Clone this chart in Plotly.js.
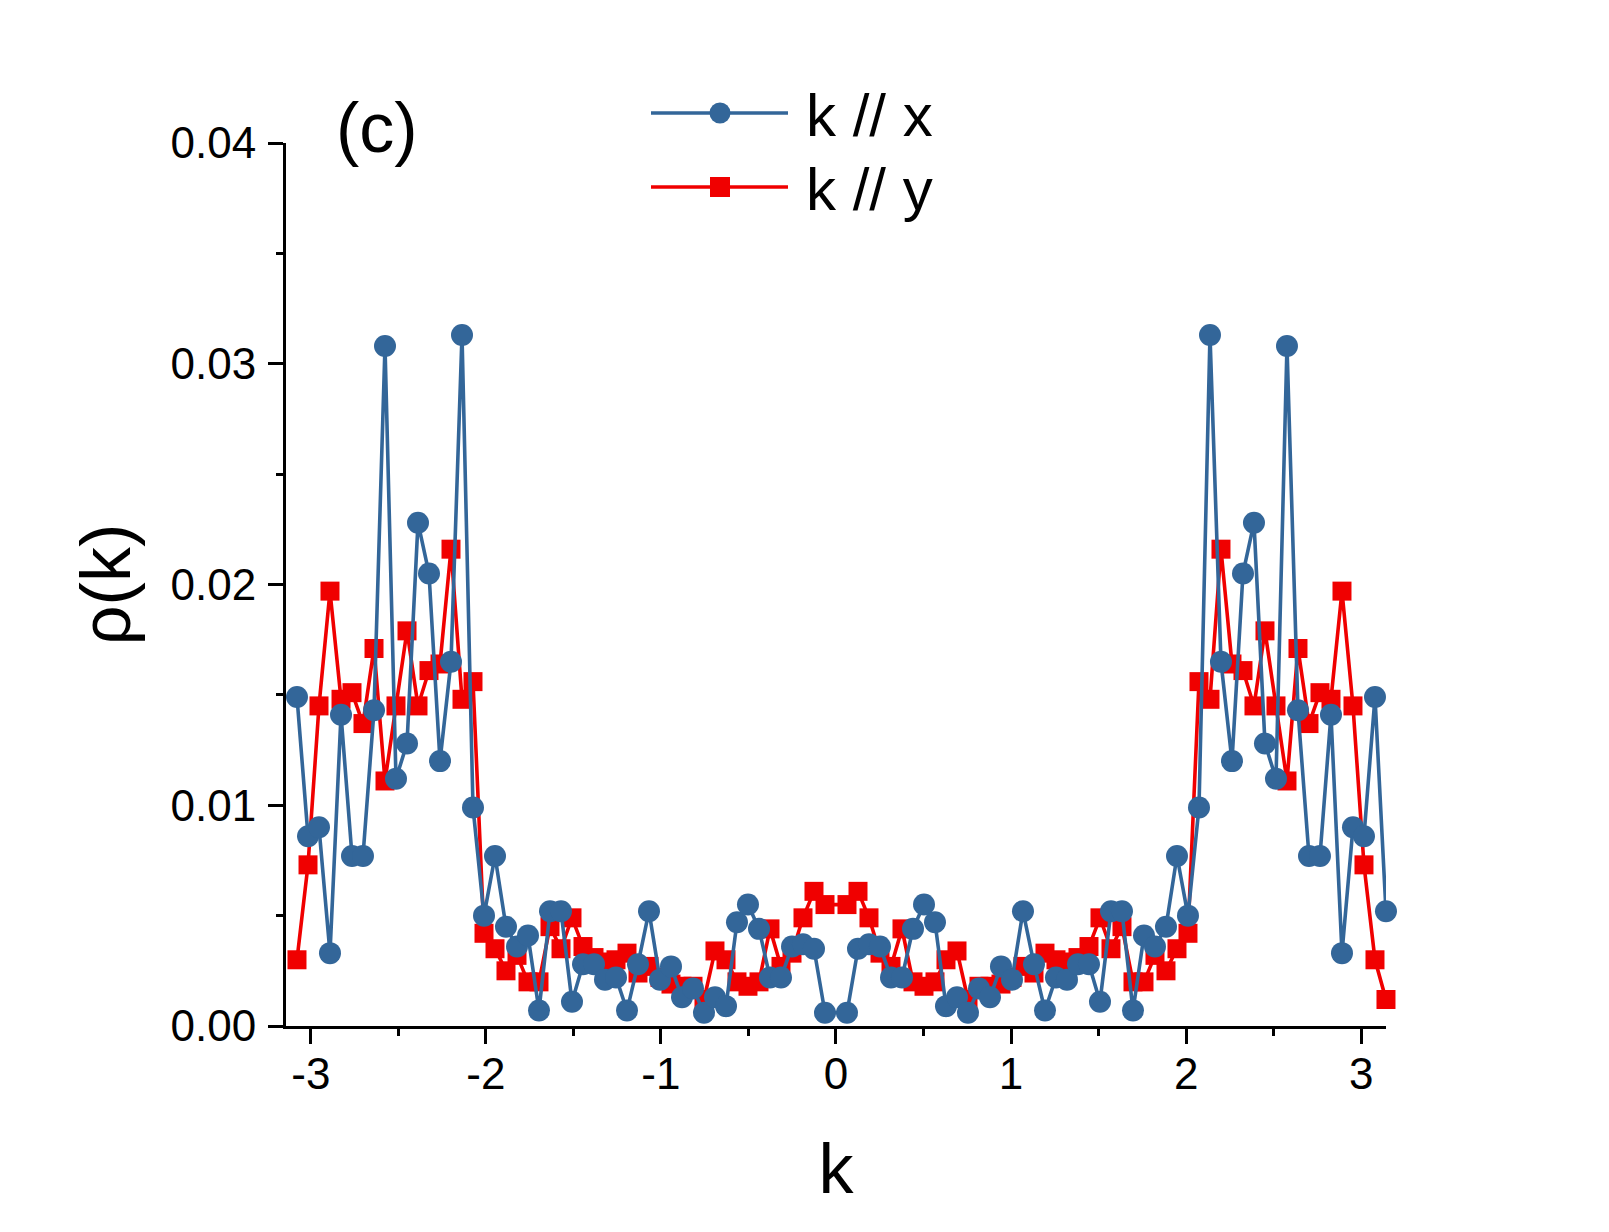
<!DOCTYPE html>
<html>
<head>
<meta charset="utf-8">
<script src="https://cdn.plot.ly/plotly-3.0.1.min.js"></script>
<style>
  html, body { margin: 0; padding: 0; background: #ffffff; }
  #plot { width: 1609px; height: 1232px; }
</style>
</head>
<body>
<div id="plot"></div>
<script>
// Lattice momenta k = 2πm/100 (m = -49..-1, 1..50)
const k = [
  -3.0788, -3.0159, -2.9531, -2.8903, -2.8274, -2.7646, -2.7018, -2.6389, -2.5761, -2.5133,
  -2.4504, -2.3876, -2.3248, -2.2619, -2.1991, -2.1363, -2.0735, -2.0106, -1.9478, -1.8850,
  -1.8221, -1.7593, -1.6965, -1.6336, -1.5708, -1.5080, -1.4451, -1.3823, -1.3195, -1.2566,
  -1.1938, -1.1310, -1.0681, -1.0053, -0.9425, -0.8796, -0.8168, -0.7540, -0.6912, -0.6283,
  -0.5655, -0.5027, -0.4398, -0.3770, -0.3142, -0.2513, -0.1885, -0.1257, -0.0628,
   0.0628,  0.1257,  0.1885,  0.2513,  0.3142,  0.3770,  0.4398,  0.5027,  0.5655,  0.6283,
   0.6912,  0.7540,  0.8168,  0.8796,  0.9425,  1.0053,  1.0681,  1.1310,  1.1938,  1.2566,
   1.3195,  1.3823,  1.4451,  1.5080,  1.5708,  1.6336,  1.6965,  1.7593,  1.8221,  1.8850,
   1.9478,  2.0106,  2.0735,  2.1363,  2.1991,  2.2619,  2.3248,  2.3876,  2.4504,  2.5133,
   2.5761,  2.6389,  2.7018,  2.7646,  2.8274,  2.8903,  2.9531,  3.0159,  3.0788,  3.1416
];

// ρ(k) for k parallel to x
const rhoX = [
  0.0149, 0.0086, 0.0090, 0.0033, 0.0141, 0.0077, 0.0077, 0.0143, 0.0308, 0.0112,
  0.0128, 0.0228, 0.0205, 0.0120, 0.0165, 0.0313, 0.0099, 0.0050, 0.0077, 0.0045,
  0.0036, 0.0041, 0.0007, 0.0052, 0.0052, 0.0011, 0.0028, 0.0028, 0.0021, 0.0022,
  0.0007, 0.0028, 0.0052, 0.0021, 0.0027, 0.0013, 0.0017, 0.0006, 0.0013, 0.0009,
  0.0047, 0.0055, 0.0044, 0.0022, 0.0022, 0.0036, 0.0037, 0.0035, 0.0006,
  0.0006, 0.0035, 0.0037, 0.0036, 0.0022, 0.0022, 0.0044, 0.0055, 0.0047, 0.0009,
  0.0013, 0.0006, 0.0017, 0.0013, 0.0027, 0.0021, 0.0052, 0.0028, 0.0007, 0.0022,
  0.0021, 0.0028, 0.0028, 0.0011, 0.0052, 0.0052, 0.0007, 0.0041, 0.0036, 0.0045,
  0.0077, 0.0050, 0.0099, 0.0313, 0.0165, 0.0120, 0.0205, 0.0228, 0.0128, 0.0112,
  0.0308, 0.0143, 0.0077, 0.0077, 0.0141, 0.0033, 0.0090, 0.0086, 0.0149, 0.0052
];

// ρ(k) for k parallel to y
const rhoY = [
  0.0030, 0.0073, 0.0145, 0.0197, 0.0148, 0.0151, 0.0137, 0.0171, 0.0111, 0.0145,
  0.0179, 0.0145, 0.0161, 0.0164, 0.0216, 0.0148, 0.0156, 0.0042, 0.0035, 0.0025,
  0.0032, 0.0020, 0.0020, 0.0045, 0.0035, 0.0049, 0.0036, 0.0031, 0.0029, 0.0030,
  0.0033, 0.0024, 0.0027, 0.0022, 0.0019, 0.0018, 0.0018, 0.0012, 0.0034, 0.0030,
  0.0020, 0.0018, 0.0020, 0.0044, 0.0027, 0.0033, 0.0049, 0.0061, 0.0055,
  0.0055, 0.0061, 0.0049, 0.0033, 0.0027, 0.0044, 0.0020, 0.0018, 0.0020, 0.0030,
  0.0034, 0.0012, 0.0018, 0.0018, 0.0019, 0.0022, 0.0027, 0.0024, 0.0033, 0.0030,
  0.0029, 0.0031, 0.0036, 0.0049, 0.0035, 0.0045, 0.0020, 0.0020, 0.0032, 0.0025,
  0.0035, 0.0042, 0.0156, 0.0148, 0.0216, 0.0164, 0.0161, 0.0145, 0.0179, 0.0145,
  0.0111, 0.0171, 0.0137, 0.0151, 0.0148, 0.0197, 0.0145, 0.0073, 0.0030, 0.0012
];

const seriesNames = ['k // x', 'k // y'];
const xTicks = [-3, -2, -1, 0, 1, 2, 3];
const yTicks = [0, 0.01, 0.02, 0.03, 0.04];

const BLUE = '#336699';
const RED = '#F00000';
const FONT = 'Liberation Sans, Arial, Helvetica, sans-serif';
const LINE_W = 3.6;

const W = 1609, H = 1232;
const M = { l: 286, r: 223, t: 143, b: 206 };

const traceY = {
  x: k, y: rhoY, name: seriesNames[1], type: 'scatter', mode: 'lines+markers',
  line: { color: RED, width: LINE_W },
  marker: { symbol: 'square', size: 19, color: RED },
  cliponaxis: false
};
const traceX = {
  x: k, y: rhoX, name: seriesNames[0], type: 'scatter', mode: 'lines+markers',
  line: { color: BLUE, width: LINE_W },
  marker: { symbol: 'circle', size: 22, color: BLUE },
  cliponaxis: false
};

// Legend drawn as shapes + text in paper space
const legendRows = [
  { name: seriesNames[0], color: BLUE, symbol: 'circle', yPx: 113 },
  { name: seriesNames[1], color: RED, symbol: 'rect', yPx: 187 }
];
const plotW = W - M.l - M.r, plotH = H - M.t - M.b;
const px = X => (X - M.l) / plotW;
const py = Y => (H - M.b - Y) / plotH;

const shapes = [];
const annotations = [];
legendRows.forEach(r => {
  shapes.push({
    type: 'line', xref: 'paper', yref: 'paper',
    x0: px(651), x1: px(788), y0: py(r.yPx), y1: py(r.yPx),
    line: { color: r.color, width: LINE_W }
  });
  const half = r.symbol === 'circle' ? 10.5 : 10;
  shapes.push({
    type: r.symbol, xref: 'paper', yref: 'paper',
    xsizemode: 'pixel', ysizemode: 'pixel',
    xanchor: px(720), yanchor: py(r.yPx),
    x0: -half, x1: half, y0: -half, y1: half,
    fillcolor: r.color, line: { color: r.color, width: 0 }
  });
  annotations.push({
    xref: 'paper', yref: 'paper', x: px(804), y: py(r.yPx + 2),
    xanchor: 'left', yanchor: 'middle', showarrow: false,
    text: r.name, font: { family: FONT, size: 60, color: '#000' }
  });
});

// Panel label
annotations.push({
  xref: 'paper', yref: 'paper', x: px(334), y: py(128),
  xanchor: 'left', yanchor: 'middle', showarrow: false,
  text: '(c)', font: { family: FONT, size: 70, color: '#000' }
});

const layout = {
  width: W, height: H,
  margin: M,
  paper_bgcolor: '#ffffff', plot_bgcolor: '#ffffff',
  showlegend: false,
  font: { family: FONT, color: '#000' },
  xaxis: {
    range: [-3.1416, 3.1417],
    tickmode: 'array', tickvals: xTicks, ticktext: xTicks.map(String),
    ticks: 'outside', ticklen: 15, tickwidth: 3, tickcolor: '#000',
    ticklabelstandoff: -8,
    minor: { dtick: 0.5, tick0: 0, ticks: 'outside', ticklen: 7, tickwidth: 3, tickcolor: '#000' },
    showline: true, linewidth: 3, linecolor: '#000',
    showgrid: false, zeroline: false,
    tickfont: { family: FONT, size: 44, color: '#000' },
    title: { text: 'k', font: { family: FONT, size: 70, color: '#000' }, standoff: 48 }
  },
  yaxis: {
    range: [0, 0.04],
    tickmode: 'array', tickvals: yTicks, ticktext: yTicks.map(v => v.toFixed(2)),
    ticks: 'outside', ticklen: 15, tickwidth: 3, tickcolor: '#000',
    ticklabelstandoff: 3,
    minor: { dtick: 0.005, tick0: 0, ticks: 'outside', ticklen: 7, tickwidth: 3, tickcolor: '#000' },
    showline: true, linewidth: 3, linecolor: '#000',
    showgrid: false, zeroline: false,
    tickfont: { family: FONT, size: 44, color: '#000' },
    title: { text: 'ρ(k)', font: { family: FONT, size: 70, color: '#000' }, standoff: 18 }
  },
  shapes: shapes,
  annotations: annotations
};

Plotly.newPlot('plot', [traceY, traceX], layout, { displayModeBar: false, staticPlot: true });
</script>
</body>
</html>
